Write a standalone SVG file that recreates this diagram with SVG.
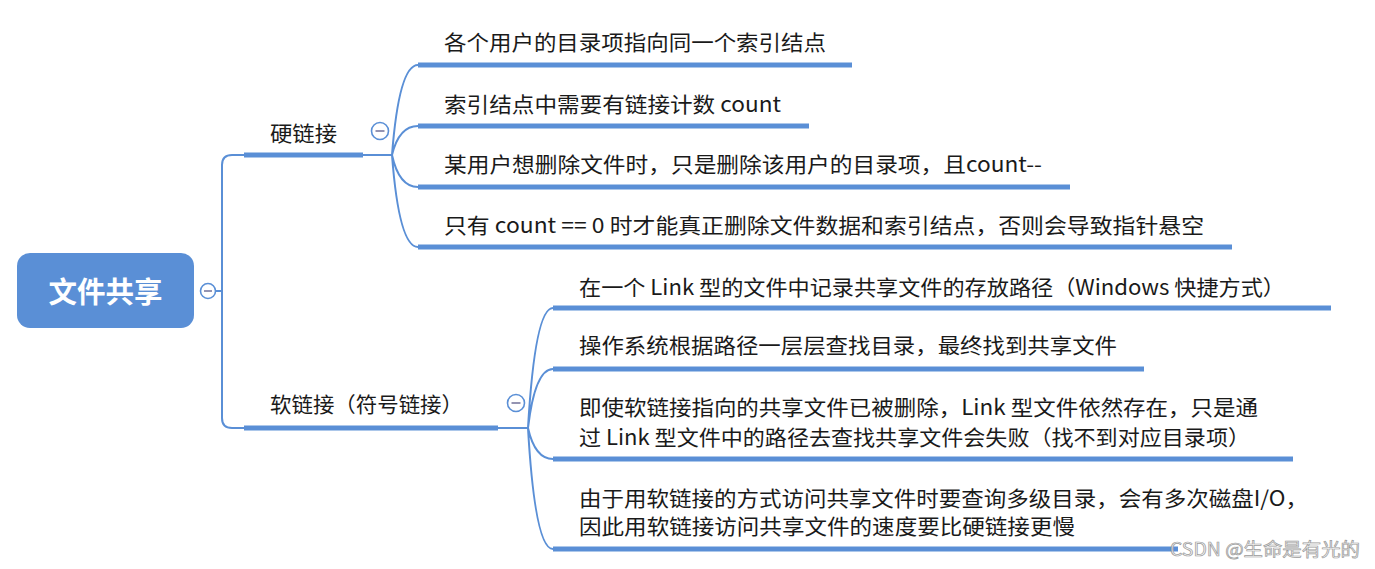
<svg xmlns="http://www.w3.org/2000/svg" width="1375" height="569" viewBox="0 0 1375 569">
<style>
.t{font-family:"Noto Sans CJK SC","Noto Sans",sans-serif;font-size:21px;fill:#1a1a1a}
.bar{stroke:#5a8fd6;stroke-width:5;fill:none}
.ln{stroke:#5a8fd6;stroke-width:2;fill:none}
.col{fill:#fff;stroke:#5a8fd6;stroke-width:1.6}
.minus{stroke:#8888aa;stroke-width:1.8}
</style>
<rect width="1375" height="569" fill="#fff"/>
<g id="connectors">
<path class="ln" d="M215,291 H222 M222,291 V165 Q222,155 232,155 H392 M222,291 V418 Q222,428 232,428 H528"/>
<path class="bar" d="M244,155 H363 M244,428 H498"/>
<path class="ln" d="M392,155 Q399,65 418,65 M392,155 Q399,126 418,126 M392,155 Q399,187 418,187 M392,155 Q399,247 418,247"/>
<path class="ln" d="M528,428 Q535,308 553,308 M528,428 Q535,369 553,369 M528,428 Q535,459 553,459 M528,428 Q535,549 553,549"/>
</g>
<g id="root">
<rect x="17" y="253" width="177" height="75" rx="13" fill="#5a8fd6"/>
<text x="105.5" y="303" text-anchor="middle" textLength="114" lengthAdjust="spacingAndGlyphs" style="font-family:'Noto Sans CJK SC','Noto Sans',sans-serif;font-size:29px;font-weight:bold;fill:#fff">文件共享</text>
<circle class="col" cx="208" cy="291" r="7.5"/><line class="minus" x1="204" y1="291" x2="212" y2="291"/>
</g>
<g id="hard">
<text class="t" x="270" y="141" textLength="67" lengthAdjust="spacingAndGlyphs">硬链接</text>
<circle class="col" cx="380" cy="131" r="8.5"/><line class="minus" x1="375.5" y1="131" x2="384.5" y2="131"/>
</g>
<g id="soft">
<text class="t" x="270" y="412" textLength="193" lengthAdjust="spacingAndGlyphs">软链接（符号链接）</text>
<circle class="col" cx="516" cy="403" r="8.5"/><line class="minus" x1="511.5" y1="403" x2="520.5" y2="403"/>
</g>
<g id="h1"><path class="bar" d="M418,65 H852"/><text class="t" x="444" y="50" textLength="382" lengthAdjust="spacingAndGlyphs">各个用户的目录项指向同一个索引结点</text></g>
<g id="h2"><path class="bar" d="M418,126 H809"/><text class="t" x="444" y="112" textLength="337" lengthAdjust="spacingAndGlyphs">索引结点中需要有链接计数 count</text></g>
<g id="h3"><path class="bar" d="M418,187 H1070"/><text class="t" x="444" y="172" textLength="598" lengthAdjust="spacingAndGlyphs">某用户想删除文件时，只是删除该用户的目录项，且count--</text></g>
<g id="h4"><path class="bar" d="M418,247 H1232"/><text class="t" x="444" y="233" textLength="760" lengthAdjust="spacingAndGlyphs">只有 count == 0 时才能真正删除文件数据和索引结点，否则会导致指针悬空</text></g>
<g id="s1"><path class="bar" d="M553,308 H1331"/><text class="t" x="579" y="295" textLength="706" lengthAdjust="spacingAndGlyphs">在一个 Link 型的文件中记录共享文件的存放路径（Windows 快捷方式）</text></g>
<g id="s2"><path class="bar" d="M553,369 H1144"/><text class="t" x="579" y="353" textLength="538" lengthAdjust="spacingAndGlyphs">操作系统根据路径一层层查找目录，最终找到共享文件</text></g>
<g id="s3"><path class="bar" d="M553,459 H1293"/>
<text class="t" x="579" y="415" textLength="679" lengthAdjust="spacingAndGlyphs">即使软链接指向的共享文件已被删除，Link 型文件依然存在，只是通</text>
<text class="t" x="579" y="445" textLength="671" lengthAdjust="spacingAndGlyphs">过 Link 型文件中的路径去查找共享文件会失败（找不到对应目录项）</text></g>
<g id="s4"><path class="bar" d="M553,549 H1178"/>
<text class="t" x="579" y="506" textLength="729" lengthAdjust="spacingAndGlyphs">由于用软链接的方式访问共享文件时要查询多级目录，会有多次磁盘I/O，</text>
<text class="t" x="579" y="534" textLength="496" lengthAdjust="spacingAndGlyphs">因此用软链接访问共享文件的速度要比硬链接更慢</text></g>
<text x="1170" y="556" textLength="190" lengthAdjust="spacingAndGlyphs" style="font-family:'Noto Sans CJK SC','Noto Sans',sans-serif;font-size:18px;fill:#f4f4f4;stroke:#8a8a8a;stroke-width:0.7;opacity:0.85">CSDN @生命是有光的</text>
</svg>
